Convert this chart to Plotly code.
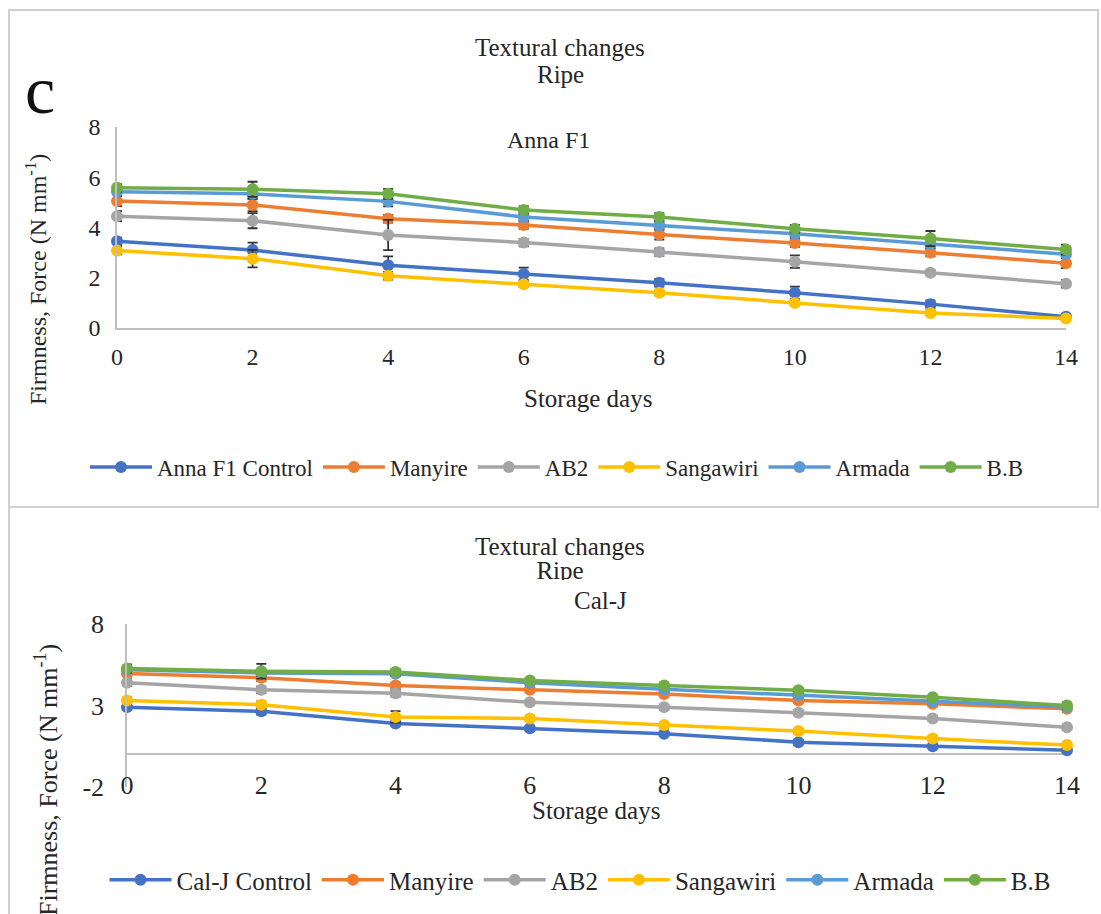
import plotly.graph_objects as go

W, H = 1101, 914

# ---------------- data ----------------
days = [0, 2, 4, 6, 8, 10, 12, 14]
x_ticks = [0, 2, 4, 6, 8, 10, 12, 14]
y_ticks_top = [0, 2, 4, 6, 8]
y_ticks_bot = [-2, 3, 8]
y_ticktext_bot = ["-2", "3", "8"]

series_names_top = ["Anna F1 Control", "Manyire", "AB2", "Sangawiri", "Armada", "B.B"]
series_names_bot = ["Cal-J Control", "Manyire", "AB2", "Sangawiri", "Armada", "B.B"]
colors = ["#4472C4", "#ED7D31", "#A5A5A5", "#FFC000", "#5B9BD5", "#70AD47"]

# Top chart: Anna F1
anna_control = [3.45, 3.1, 2.5, 2.15, 1.8, 1.4, 0.95, 0.45]
anna_manyire = [5.05, 4.9, 4.35, 4.1, 3.72, 3.38, 3.0, 2.58]
anna_ab2 = [4.45, 4.27, 3.7, 3.4, 3.02, 2.64, 2.2, 1.76]
anna_sangawiri = [3.08, 2.76, 2.08, 1.74, 1.4, 1.0, 0.6, 0.38]
anna_armada = [5.42, 5.34, 5.04, 4.42, 4.08, 3.75, 3.34, 2.94]
anna_bb = [5.58, 5.52, 5.34, 4.7, 4.42, 3.95, 3.56, 3.12]

anna_control_err = [0.15, 0.3, 0.35, 0.25, 0.15, 0.25, 0.15, 0.1]
anna_manyire_err = [0.2, 0.25, 0.15, 0.15, 0.2, 0.15, 0.15, 0.2]
anna_ab2_err = [0.2, 0.3, 0.6, 0.15, 0.15, 0.25, 0.1, 0.15]
anna_sangawiri_err = [0.15, 0.35, 0.15, 0.1, 0.1, 0.1, 0.1, 0.1]
anna_armada_err = [0.15, 0.2, 0.2, 0.15, 0.15, 0.15, 0.15, 0.15]
anna_bb_err = [0.15, 0.3, 0.2, 0.15, 0.15, 0.15, 0.3, 0.2]

# Bottom chart: Cal-J
calj_control = [2.9, 2.64, 1.9, 1.6, 1.27, 0.75, 0.5, 0.25]
calj_manyire = [4.97, 4.7, 4.23, 3.96, 3.7, 3.3, 3.1, 2.8]
calj_ab2 = [4.4, 3.96, 3.75, 3.2, 2.9, 2.55, 2.2, 1.67]
calj_sangawiri = [3.3, 3.05, 2.3, 2.2, 1.8, 1.43, 0.97, 0.57]
calj_armada = [5.2, 5.0, 4.95, 4.4, 4.0, 3.65, 3.25, 2.9]
calj_bb = [5.27, 5.1, 5.05, 4.54, 4.23, 3.93, 3.5, 3.0]

calj_control_err = [0.15, 0.2, 0.15, 0.15, 0.1, 0.15, 0.1, 0.1]
calj_manyire_err = [0.2, 0.2, 0.15, 0.15, 0.15, 0.15, 0.15, 0.2]
calj_ab2_err = [0.2, 0.2, 0.2, 0.15, 0.15, 0.15, 0.15, 0.15]
calj_sangawiri_err = [0.2, 0.2, 0.35, 0.15, 0.15, 0.15, 0.15, 0.15]
calj_armada_err = [0.2, 0.2, 0.15, 0.15, 0.15, 0.15, 0.15, 0.15]
calj_bb_err = [0.25, 0.45, 0.2, 0.15, 0.15, 0.15, 0.15, 0.2]

top_values = [anna_control, anna_manyire, anna_ab2, anna_sangawiri, anna_armada, anna_bb]
top_errs = [anna_control_err, anna_manyire_err, anna_ab2_err, anna_sangawiri_err, anna_armada_err, anna_bb_err]
bot_values = [calj_control, calj_manyire, calj_ab2, calj_sangawiri, calj_armada, calj_bb]
bot_errs = [calj_control_err, calj_manyire_err, calj_ab2_err, calj_sangawiri_err, calj_armada_err, calj_bb_err]


def px(x):
    return x / W


def py(y):
    return 1 - y / H


FONT = "Liberation Serif"
TXT = "#262626"

fig = go.Figure()

for name, vals, errs, col in zip(series_names_top, top_values, top_errs, colors):
    fig.add_trace(go.Scatter(
        x=days, y=vals, name=name, mode="lines+markers",
        line=dict(color=col, width=3.5),
        marker=dict(color=col, size=12),
        error_y=dict(type="data", array=errs, visible=True, color="#333333", thickness=1.8, width=5),
        cliponaxis=False, xaxis="x", yaxis="y", legend="legend",
    ))

for name, vals, errs, col in zip(series_names_bot, bot_values, bot_errs, colors):
    fig.add_trace(go.Scatter(
        x=days, y=vals, name=name, mode="lines+markers",
        line=dict(color=col, width=3.5),
        marker=dict(color=col, size=12),
        error_y=dict(type="data", array=errs, visible=True, color="#333333", thickness=1.8, width=5),
        cliponaxis=False, xaxis="x2", yaxis="y2", legend="legend2",
    ))

# clipped "Ripe" subtitle in the lower panel
fig.add_trace(go.Scatter(
    x=[560 / W], y=[(580 - 573) / 50], mode="text", text=["Ripe"],
    textposition="middle center", textfont=dict(family=FONT, size=25, color=TXT),
    cliponaxis=True, showlegend=False, hoverinfo="skip", xaxis="x3", yaxis="y3",
))

tickfont = dict(family=FONT, size=24, color=TXT)
tickfont2 = dict(family=FONT, size=26, color=TXT)

fig.update_layout(
    width=W, height=H, margin=dict(l=0, r=0, t=0, b=0, pad=0), autosize=False,
    font=dict(family=FONT, color=TXT),
    paper_bgcolor="white", plot_bgcolor="rgba(0,0,0,0)",
    showlegend=True,
    xaxis=dict(domain=[px(117), px(1066)], range=[0, 14], tickvals=x_ticks, automargin=False,
               showgrid=False, zeroline=False, showline=True, linecolor="#bfbfbf", linewidth=1.5,
               ticks="", tickfont=tickfont, ticklabelstandoff=6, anchor="y", fixedrange=True),
    yaxis=dict(domain=[py(328), py(127)], range=[0, 8], tickvals=y_ticks_top, automargin=False,
               showgrid=False, zeroline=False, showline=True, linecolor="#bfbfbf", linewidth=1.5,
               ticks="", tickfont=tickfont, ticklabelstandoff=10, anchor="x", fixedrange=True),
    xaxis2=dict(domain=[px(127), px(1067)], range=[0, 14], tickvals=x_ticks, automargin=False,
                showgrid=False, zeroline=False, showline=False,
                ticks="", tickfont=tickfont2,
                ticklabelstandoff=-20, anchor="y2", fixedrange=True),
    yaxis2=dict(domain=[py(787), py(624)], range=[-2, 8], tickvals=y_ticks_bot, ticktext=y_ticktext_bot,
                automargin=False,
                showgrid=False, zeroline=True, zerolinecolor="#bfbfbf", zerolinewidth=1.5,
                showline=True, linecolor="#bfbfbf", linewidth=1.5,
                ticks="", tickfont=tickfont2,
                ticklabelstandoff=16, anchor="x2", fixedrange=True),
    xaxis3=dict(domain=[0, 1], range=[0, 1], visible=False, automargin=False, anchor="y3", fixedrange=True),
    yaxis3=dict(domain=[py(580), py(530)], range=[0, 1], visible=False, automargin=False, anchor="x3",
                fixedrange=True),
    legend=dict(orientation="h", x=px(557), xanchor="center", y=py(467), yanchor="middle",
                font=dict(family=FONT, size=23, color=TXT), bgcolor="rgba(0,0,0,0)",
                itemwidth=62, tracegroupgap=0),
    legend2=dict(orientation="h", x=px(580), xanchor="center", y=py(880), yanchor="middle",
                 font=dict(family=FONT, size=25, color=TXT), bgcolor="rgba(0,0,0,0)",
                 itemwidth=62, tracegroupgap=0),
)

annotations = [
    dict(text="Textural changes", x=px(560), y=py(47), size=25),
    dict(text="Ripe", x=px(560), y=py(75), size=25),
    dict(text="c", x=px(40), y=py(90), size=68),
    dict(text="Anna F1", x=px(548), y=py(140), size=24),
    dict(text="Storage days", x=px(588), y=py(398), size=25),
    dict(text="Firmness, Force (N mm<sup>-1</sup>)", x=px(36), y=py(280), size=24, angle=-90),
    dict(text="Textural changes", x=px(560), y=py(546), size=25),
    dict(text="Cal-J", x=px(600), y=py(600), size=25),
    dict(text="Storage days", x=px(596), y=py(810), size=25),
    dict(text="Firmness, Force (N mm<sup>-1</sup>)", x=px(46), y=py(780), size=26, angle=-90),
]
for a in annotations:
    fig.add_annotation(
        text=a["text"], x=a["x"], y=a["y"], xref="paper", yref="paper",
        xanchor="center", yanchor="middle", showarrow=False,
        textangle=a.get("angle", 0),
        font=dict(family=FONT, size=a["size"], color="#111" if a["text"] == "c" else TXT),
    )

# panel borders
fig.add_shape(type="rect", xref="paper", yref="paper",
              x0=px(9), x1=px(1098), y0=py(507), y1=py(10),
              line=dict(color="#d0d0d0", width=2), layer="below")
fig.add_shape(type="line", xref="paper", yref="paper",
              x0=px(9), x1=px(9), y0=py(507), y1=py(914),
              line=dict(color="#d0d0d0", width=2), layer="below")

fig.write_html("out.html", config={"displayModeBar": False},
               post_script="document.body.style.margin='0';document.documentElement.style.overflow='hidden';")
